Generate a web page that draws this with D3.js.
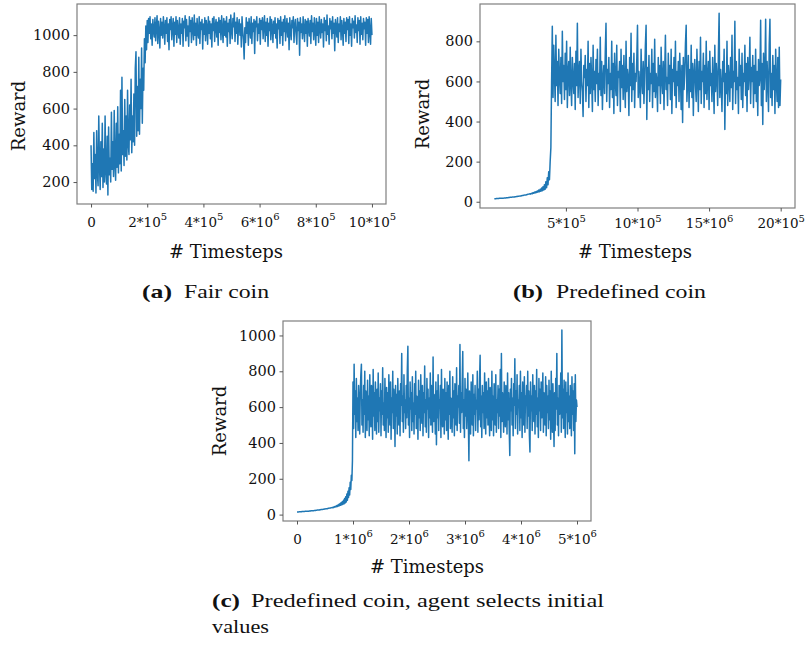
<!DOCTYPE html>
<html>
<head>
<meta charset="utf-8">
<title>Reward over timesteps</title>
<style>
  body { margin: 0; background: #fff; }
  svg { display: block; }
</style>
</head>
<body>
<script src="https://cdn.jsdelivr.net/npm/d3@7/dist/d3.min.js"></script>
<script>

// (a) fair coin: one reward every 2500 timesteps, 0 .. 1e6
var stepA = 2500;
var rewardA = [
  400, 160, 300, 150, 470, 220, 350, 140, 480, 250,
  180, 560, 300, 160, 420, 230, 520, 170, 380, 200,
  560, 260, 190, 450, 130, 500, 240, 330, 200, 580,
  270, 420, 230, 590, 300, 210, 520, 280, 610, 250,
  460, 300, 700, 260, 770, 350, 480, 290, 650, 340,
  560, 320, 700, 410, 350, 620, 430, 760, 360, 560,
  420, 680, 400, 820, 910, 450, 720, 480, 880, 460,
  760, 600, 930, 520, 820, 700, 980, 850, 1050, 920,
  1080,
  960, 1090, 1010, 1100, 980, 1060, 945, 1085, 1030, 990,
  1095, 970, 1050, 1105, 955, 1075, 1020, 930, 1090, 1000,
  1070, 985, 1100, 1040, 950, 1080, 1010, 1095, 965, 1060,
  920, 1085, 1030, 1100, 975, 1045, 1090, 940, 1070, 1005,
  1100, 960, 1080, 1025, 985, 1095, 950, 1060, 1010, 1090,
  940, 1075, 1040, 1105, 970, 1085, 995, 1050, 940, 1100,
  1020, 1080, 960, 1095, 1035, 975, 1110, 1000, 1065, 945,
  1090, 1015, 985, 1100, 955, 1070, 1030, 1085, 925, 1060,
  1005, 1095, 970, 1080, 1045, 950, 1100, 1010, 1075, 980,
  1060, 935, 1090, 1025, 1100, 965, 1050, 1085, 990, 1070,
  945, 1095, 1015, 1080, 975, 1105, 1035, 960, 1090, 1000,
  1075, 990, 1100, 940, 1065, 1020, 1085, 955, 1110, 1030,
  980, 1090, 1045, 1120, 965, 1070, 1010, 1095, 950, 1055,
  1085, 1000, 1060, 935, 1100, 1025, 975, 870, 1040, 960,
  1095, 1010, 1070, 945, 1090, 1035, 985, 1100, 955, 1065,
  1020, 1085, 900, 1075, 1045, 1100, 970, 1060, 1010, 1090,
  950, 1080, 1030, 1095, 980, 1055, 1105, 965, 1070, 1000,
  1090, 940, 1065, 1025, 1100, 975, 1085, 1045, 960, 1075,
  1010, 1095, 985, 1060, 930, 1090, 1035, 1080, 955, 1100,
  1000, 1070, 945, 1085, 1020, 1105, 970, 1050, 1090, 990,
  1065, 920, 1095, 1030, 975, 1080, 1040, 1100, 960, 1055,
  1085, 1005, 950, 1090, 1025, 1070, 890, 1095, 1015, 1060,
  980, 1100, 1035, 965, 1085, 1010, 1075, 940, 1090, 1045,
  995, 1080, 955, 1105, 1020, 1065, 975, 1095, 1030, 945,
  1090, 1000, 1070, 960, 1100, 1040, 985, 1085, 1015, 1060,
  935, 1095, 1025, 1080, 970, 1110, 1005, 1050, 950, 1090,
  1035, 1075, 980, 1100, 1010, 1065, 915, 1085, 1045, 990,
  1095, 960, 1060, 1020, 1100, 975, 1080, 1035, 945, 1090,
  1010, 1070, 965, 1095, 1030, 1085, 955, 1100, 1000, 1060,
  940, 1090, 1040, 1075, 985, 1105, 1015, 1055, 960, 1095,
  1025, 1080, 950, 1100, 1005, 1065, 975, 1090, 1035, 1070,
  945, 1095, 1010, 1085, 960, 1100, 1020, 950, 1090, 1000
];
var yTicksA = [200, 400, 600, 800, 1000];
var xTicksA = [0, 200000, 400000, 600000, 800000, 1000000];
var xLabelsA = ["0", "2*10^5", "4*10^5", "6*10^6", "8*10^5", "10*10^5"];

// (b) predefined coin: one reward every 5000 timesteps, 0 .. 2e6
var stepB = 5000;
var rewardB = [
  15, 15, 15, 16, 16, 16, 16, 17, 17, 17,
  17, 18, 18, 18, 19, 19, 19, 20, 20, 20,
  21, 21, 22, 22, 22, 23, 23, 24, 24, 25,
  25, 26, 26, 27, 27, 28, 29, 29, 30, 31,
  31, 32, 33, 33, 34, 35, 36, 37, 38, 39,
  40, 38, 42, 40, 45, 42, 48, 44, 50, 46,
  54, 48, 58, 50, 62, 52, 68, 55, 75, 58,
  85, 62, 100, 70, 120, 85, 150, 110, 200, 270,
  600, 875, 520, 780, 640, 500, 830, 580, 700, 480,
  760, 620, 540, 720, 490, 850, 600, 680, 510, 740,
  560, 800, 470, 650, 700, 530, 770, 590, 480, 720,
  610, 540, 690, 460, 750, 580, 890, 520, 640, 700,
  490, 760, 600, 550, 425, 680, 620, 730, 500, 660,
  580, 800, 470, 690, 540, 720, 610, 450, 780, 560,
  650, 500, 710, 590, 760, 480, 640, 560, 820, 530,
  700, 460, 620, 680, 540, 750, 890, 500, 660, 590,
  720, 470, 640, 560, 800, 520, 690, 440, 740, 600,
  530, 780, 480, 650, 620, 700, 450, 760, 570, 680,
  510, 730, 590, 470, 800, 550, 660, 620, 430, 720,
  580, 840, 500, 690, 560, 740, 470, 640, 600, 710,
  880, 520, 650, 580, 470, 760, 610, 540, 700, 490,
  620, 780, 880, 410, 670, 560, 730, 500, 640, 590,
  760, 470, 690, 550, 810, 520, 640, 600, 450, 720,
  580, 680, 490, 770, 610, 540, 700, 460, 650, 830,
  560, 620, 480, 740, 590, 680, 510, 760, 440, 660,
  600, 720, 530, 800, 470, 650, 580, 700, 500, 740,
  620, 460, 680, 395, 720, 560, 640, 790, 880, 500,
  600, 730, 470, 660, 550, 780, 520, 690, 430, 640,
  710, 580, 500, 760, 620, 450, 700, 560, 820, 490,
  650, 600, 740, 470, 680, 540, 800, 510, 620, 700,
  460, 750, 580, 640, 500, 720, 600, 440, 780, 550,
  690, 620, 480, 740, 940, 520, 660, 580, 450, 700,
  600, 760, 360, 640, 540, 800, 480, 680, 620, 500,
  720, 570, 830, 460, 650, 600, 900, 490, 700, 560,
  620, 440, 760, 580, 680, 510, 740, 470, 640, 600,
  780, 530, 690, 450, 720, 560, 640, 820, 490, 670,
  600, 730, 470, 680, 540, 760, 500, 650, 430, 710,
  580, 620, 905, 480, 690, 385, 740, 560, 660, 910,
  500, 700, 600, 450, 780, 910, 520, 640, 480, 730,
  560, 680, 440, 760, 600, 500, 720, 470, 770, 480,
  610
];
var yTicksB = [0, 200, 400, 600, 800];
var xTicksB = [500000, 1000000, 1500000, 2000000];
var xLabelsB = ["5*10^5", "10*10^5", "15*10^6", "20*10^5"];

// (c) agent selects initial values: one reward every 10000 timesteps, 0 .. 5e6
var stepC = 10000;
var rewardC = [
  15, 15, 15, 15, 16, 16, 16, 16, 16, 17,
  17, 17, 17, 17, 18, 18, 18, 18, 19, 19,
  19, 19, 20, 20, 20, 21, 21, 21, 22, 22,
  22, 23, 23, 23, 24, 24, 25, 25, 25, 26,
  26, 27, 27, 28, 28, 29, 29, 30, 30, 31,
  31, 32, 32, 33, 33, 34, 35, 35, 36, 37,
  37, 38, 39, 40, 38, 42, 40, 45, 42, 47,
  44, 50, 45, 54, 48, 58, 50, 62, 52, 68,
  55, 72, 58, 80, 60, 90, 65, 100, 70, 115,
  80, 130, 95, 150, 110, 180, 140, 220, 190, 300,
  740, 480, 840, 560, 690, 430, 760, 520, 650, 470,
  720, 590, 450, 680, 780, 840, 500, 640, 460, 720,
  560, 800, 430, 690, 610, 470, 750, 530, 660, 440,
  780, 580, 490, 720, 640, 420, 810, 550, 680, 470,
  740, 600, 450, 700, 520, 790, 460, 650, 580, 730,
  440, 690, 560, 820, 500, 620, 470, 760, 590, 430,
  710, 540, 680, 460, 780, 610, 500, 740, 420, 650,
  570, 800, 480, 700, 630, 380, 720, 550, 670, 450,
  760, 590, 500, 690, 440, 730, 610, 900, 520, 660,
  460, 780, 570, 640, 480, 720, 540, 810, 940, 500,
  650, 430, 740, 590, 680, 470, 770, 520, 620, 450,
  730, 560, 800, 480, 660, 610, 420, 750, 540, 690,
  470, 780, 600, 510, 720, 440, 680, 570, 830, 490,
  640, 460, 760, 590, 700, 430, 650, 540, 790, 500,
  720, 580, 460, 880, 520, 670, 610, 450, 740, 390,
  690, 540, 780, 470, 640, 600, 720, 430, 810, 560,
  490, 700, 620, 450, 760, 530, 680, 470, 740, 590,
  420, 720, 560, 800, 480, 650, 610, 460, 770, 540,
  690, 440, 730, 580, 500, 820, 470, 660, 600, 720,
  510, 950, 460, 680, 570, 740, 910, 480, 640, 430,
  760, 550, 700, 480, 620, 790, 520, 300, 690, 580,
  450, 740, 610, 500, 780, 440, 670, 560, 720, 470,
  640, 590, 800, 460, 700, 530, 750, 890, 490, 660,
  430, 720, 570, 680, 480, 790, 610, 450, 740, 540,
  690, 500, 760, 580, 440, 710, 620, 470, 800, 530,
  660, 440, 730, 590, 500, 780, 460, 640, 570, 720,
  480, 700, 550, 810, 430, 900, 520, 680, 600, 460,
  740, 570, 490, 720, 640, 450, 790, 530, 680, 470,
  330, 700, 580, 760, 500, 650, 440, 730, 610, 870,
  480, 690, 560, 780, 450, 640, 600, 720, 470, 800,
  540, 680, 430, 740, 590, 500, 770, 460, 660, 620,
  720, 480, 800, 550, 690, 440, 350, 740, 580, 660,
  470, 780, 600, 520, 720, 450, 690, 560, 810, 490,
  650, 430, 760, 580, 700, 470, 740, 540, 630, 790,
  460, 680, 610, 500, 770, 440, 720, 570, 660, 480,
  750, 530, 690, 420, 800, 600, 460, 730, 550, 380,
  680, 470, 760, 590, 900, 500, 650, 440, 720, 560,
  610, 790, 460, 1030, 540, 700, 480, 750, 600, 430,
  740, 570, 680, 450, 790, 520, 660, 480, 720, 590,
  440, 770, 560, 690, 470, 730, 340, 780, 520, 640,
  600
];
var yTicksC = [0, 200, 400, 600, 800, 1000];
var xTicksC = [0, 1000000, 2000000, 3000000, 4000000, 5000000];
var xLabelsC = ["0", "1*10^6", "2*10^6", "3*10^6", "4*10^6", "5*10^6"];

var width = 809, height = 646;
var lineColor = '#1f77b4';
var tickFont = "'DejaVu Serif', serif";
var captionFont = "'Liberation Serif', 'Times New Roman', serif";

var svg = d3.select('body')
            .append('svg')
              .attr('width', width)
              .attr('height', height);

// matplotlib style: data extent plus 5% on each side
function padded(lo, hi) {
  var m = (hi - lo) * 0.05;
  return [lo - m, hi + m];
}

function drawPanel(p) {
  var xMax = (p.rewards.length - 1) * p.step;
  var x = d3.scaleLinear()
              .domain(padded(0, xMax))
              .range([p.left, p.right]);
  var yExt = d3.extent(p.rewards);
  var y = d3.scaleLinear()
              .domain(padded(yExt[0], yExt[1]))
              .range([p.bottom, p.top]);

  var g = svg.append('g');

  var line = d3.line()
                .x(function(d, i) { return x(i * p.step); })
                .y(function(d) { return y(d); });

  g.append('path')
      .datum(p.rewards)
      .attr('d', line)
      .attr('fill', 'none')
      .attr('stroke', lineColor)
      .attr('stroke-width', 1.5)
      .attr('stroke-linejoin', 'round');

  // frame
  g.append('rect')
      .attr('x', p.left)
      .attr('y', p.top)
      .attr('width', p.right - p.left)
      .attr('height', p.bottom - p.top)
      .attr('fill', 'none')
      .attr('stroke', '#7f7f7f')
      .attr('stroke-width', 1.2);

  var yAxis = d3.axisLeft(y)
                  .tickValues(p.yTicks)
                  .tickSize(3.5)
                  .tickPadding(3.5)
                  .tickFormat(d3.format('d'));
  var ya = g.append('g')
      .attr('transform', 'translate(' + p.left + ',0)')
      .call(yAxis);
  ya.select('.domain').remove();
  ya.selectAll('line').attr('stroke', '#555');
  ya.selectAll('text')
      .style('font-family', tickFont)
      .attr('font-size', 14.5)
      .attr('fill', '#111');

  var xAxis = d3.axisBottom(x)
                  .tickValues(p.xTicks)
                  .tickSize(3.5)
                  .tickFormat(function(d, i) { return p.xLabels[i]; });
  var xa = g.append('g')
      .attr('transform', 'translate(0,' + p.bottom + ')')
      .call(xAxis);
  xa.select('.domain').remove();
  xa.selectAll('line').attr('stroke', '#555');
  xa.selectAll('text').each(function(d, i) {
    var t = d3.select(this);
    var parts = p.xLabels[i].split('^');
    t.text(parts[0])
      .attr('y', p.tickBase)
      .attr('dy', 0)
      .style('font-family', tickFont)
      .attr('font-size', 13.5)
      .attr('fill', '#111');
    if (parts.length > 1) {
      t.append('tspan')
        .attr('dy', -6.5)
        .attr('font-size', 10)
        .text(parts[1]);
    }
  });

  g.append('text')
      .attr('transform', 'translate(' + p.yLabelX + ',' + p.yLabelY + ') rotate(-90)')
      .attr('text-anchor', 'middle')
      .style('font-family', tickFont)
      .attr('font-size', 18)
      .attr('fill', '#111')
      .text('Reward');

  g.append('text')
      .attr('x', p.xLabelX)
      .attr('y', p.xLabelY)
      .attr('text-anchor', 'middle')
      .style('font-family', tickFont)
      .attr('font-size', 18)
      .attr('fill', '#111')
      .text('# Timesteps');

  // caption, LaTeX subcaption look
  p.caption.forEach(function(c) {
    var t = g.append('text')
        .attr('x', c.x)
        .attr('y', c.y)
        .style('font-family', captionFont)
        .attr('font-size', 19)
        .attr('fill', '#111')
        .attr('textLength', c.w)
        .attr('lengthAdjust', 'spacingAndGlyphs')
        .text(c.text);
    if (c.bold) t.attr('font-weight', 'bold');
  });
}

drawPanel({
  rewards: rewardA, step: stepA, yTicks: yTicksA, xTicks: xTicksA, xLabels: xLabelsA,
  left: 77, right: 386, top: 4, bottom: 204, tickBase: 22.5,
  yLabelX: 25, yLabelY: 116, xLabelX: 226, xLabelY: 258,
  caption: [
    { text: '(a)', bold: true, x: 142, y: 298, w: 30 },
    { text: 'Fair coin', x: 184, y: 298, w: 85 }
  ]
});

drawPanel({
  rewards: rewardB, step: stepB, yTicks: yTicksB, xTicks: xTicksB, xLabels: xLabelsB,
  left: 480, right: 795, top: 4, bottom: 208, tickBase: 20,
  yLabelX: 429, yLabelY: 114, xLabelX: 635, xLabelY: 258,
  caption: [
    { text: '(b)', bold: true, x: 513, y: 298, w: 30 },
    { text: 'Predefined coin', x: 556, y: 298, w: 150 }
  ]
});

drawPanel({
  rewards: rewardC, step: stepC, yTicks: yTicksC, xTicks: xTicksC, xLabels: xLabelsC,
  left: 283, right: 591, top: 321, bottom: 521, tickBase: 22.5,
  yLabelX: 226, yLabelY: 421, xLabelX: 427, xLabelY: 573,
  caption: [
    { text: '(c)', bold: true, x: 212, y: 607, w: 28 },
    { text: 'Predefined coin, agent selects initial', x: 251, y: 607, w: 353 },
    { text: 'values', x: 212, y: 633, w: 57 }
  ]
});

</script>
</body>
</html>
